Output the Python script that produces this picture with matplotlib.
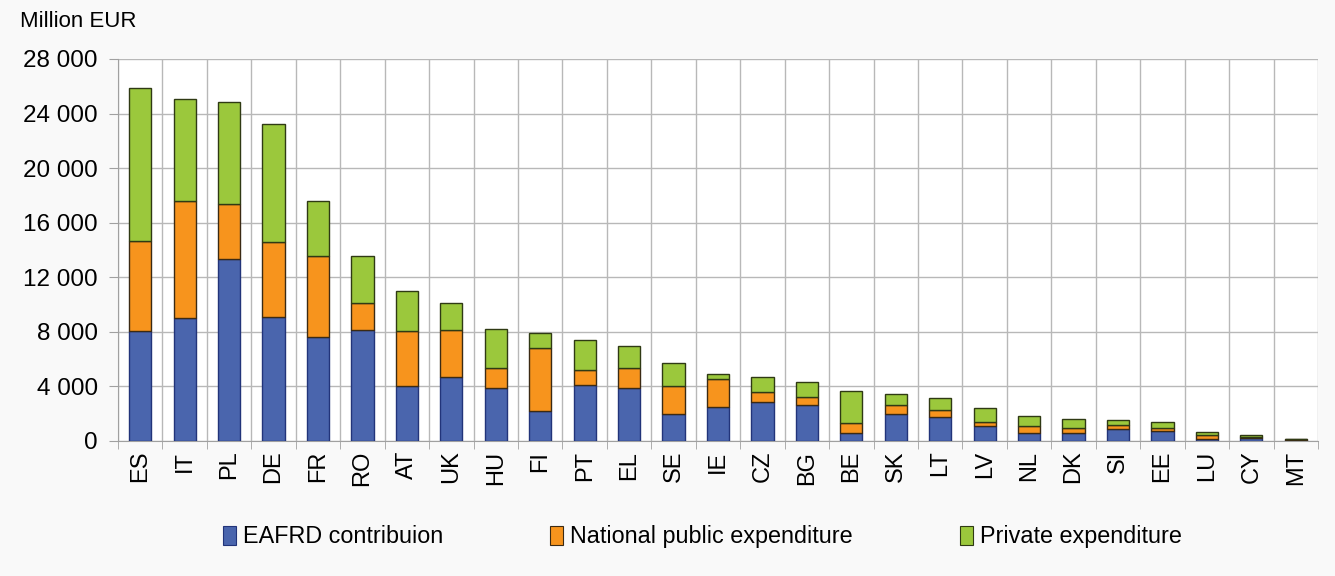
"""
Rural development programmes: planned expenditure by member state
"""
import numpy as np
import matplotlib.pyplot as plt
from matplotlib.patches import Patch
from matplotlib.ticker import FuncFormatter

plt.rcParams['font.family'] = ['Liberation Sans', 'DejaVu Sans']

countries = ['ES', 'IT', 'PL', 'DE', 'FR', 'RO', 'AT', 'UK', 'HU', 'FI', 'PT', 'EL', 'SE', 'IE',
             'CZ', 'BG', 'BE', 'SK', 'LT', 'LV', 'NL', 'DK', 'SI', 'EE', 'LU', 'CY', 'MT']
eafrd = [8050, 9000, 13370, 9080, 7590, 8100, 4000, 4660, 3880, 2170, 4075, 3880, 1980, 2490,
         2830, 2610, 560, 1955, 1735, 1075, 560, 560, 855, 710, 125, 190, 100]
national = [6640, 8620, 4030, 5540, 6000, 1980, 4030, 3440, 1440, 4615, 1125, 1440, 2020, 2025,
            780, 590, 735, 655, 510, 295, 515, 370, 295, 220, 290, 90, 20]
private = [11200, 7470, 7470, 8640, 4030, 3510, 3000, 1980, 2855, 1095, 2170, 1610, 1685, 365,
           1050, 1095, 2345, 810, 880, 1025, 735, 660, 365, 440, 220, 140, 5]
series_labels = ['EAFRD contribuion', 'National public expenditure', 'Private expenditure']
colors = ['#4a65ad', '#f7941d', '#9bc83c']
edges = ['#22347a', '#3b2a14', '#2f3a14']

fig = plt.figure(figsize=(13.35, 5.76), dpi=100, facecolor='#f9f9f9')
ax = fig.add_axes([0.0884, 0.2344, 0.8989, 0.6632])
ax.set_facecolor('white')

x = np.arange(len(countries))
bottom = np.zeros(len(countries))
for vals, col, ec in zip([eafrd, national, private], colors, edges):
    ax.bar(x, vals, width=0.5, bottom=bottom, color=col, edgecolor=ec, linewidth=1, zorder=3)
    bottom += np.array(vals)

ax.set_xlim(-0.5, len(countries) - 0.5)
ax.set_ylim(0, 28000)
ax.set_yticks(np.arange(0, 28001, 4000))
ax.yaxis.set_major_formatter(FuncFormatter(lambda v, p: f'{int(v):,}'.replace(',', ' ')))

# category labels centred, tick marks + grid on the boundaries
ax.set_xticks(x)
ax.set_xticklabels(countries, rotation=90, fontsize=17)
ax.set_xticks(np.arange(-0.5, len(countries)), minor=True)
ax.tick_params(axis='x', which='major', length=0, pad=7)
ax.tick_params(axis='x', which='minor', length=5.5, color='#a0a0a0')
ax.tick_params(axis='y', length=6.5, color='#a0a0a0', labelsize=17.5, pad=8)

ax.grid(True, axis='y', color='#b8b8b8', linewidth=1, zorder=0)
ax.grid(True, axis='x', which='minor', color='#b8b8b8', linewidth=1, zorder=0)
for s in ['top', 'right']:
    ax.spines[s].set_visible(False)
for s in ['left', 'bottom']:
    ax.spines[s].set_color('#a0a0a0')

fig.text(0.015, 0.962, 'Million EUR', fontsize=16, va='center', ha='left')

handles = [Patch(facecolor=c, edgecolor=e, linewidth=0.8) for c, e in zip(colors, edges)]
fig.legend(handles, series_labels, loc='center', bbox_to_anchor=(0.526, 0.068), ncol=3,
           frameon=False, fontsize=16.8, handlelength=0.55, handleheight=0.9,
           handletextpad=0.3, columnspacing=4.6)

fig.savefig('out.png', dpi=100, facecolor=fig.get_facecolor())
